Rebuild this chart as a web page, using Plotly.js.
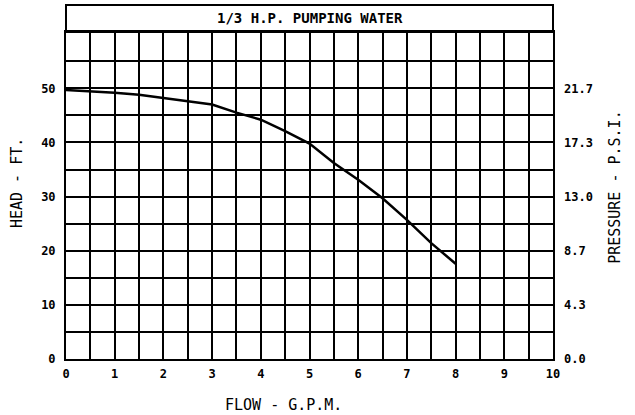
<!DOCTYPE html>
<html>
<head>
<meta charset="utf-8">
<script src="https://cdn.plot.ly/plotly-3.0.1.min.js"></script>
<style>html,body{margin:0;padding:0;background:#fff;}#chart{width:635px;height:415px;}</style>
</head>
<body>
<div id="chart"></div>
<script>
// Data
const flowGpm = [0, 0.5, 1, 1.5, 2, 2.5, 3, 3.5, 4, 4.5, 5, 5.5, 6, 6.5, 7, 7.5, 8];
const headFt  = [49.7, 49.5, 49.2, 48.8, 48.2, 47.7, 47.0, 45.5, 44.2, 42.1, 39.8, 36.2, 33.1, 29.7, 25.7, 21.4, 17.6];

const xTickVals = [0,0.5,1,1.5,2,2.5,3,3.5,4,4.5,5,5.5,6,6.5,7,7.5,8,8.5,9,9.5,10];
const xTickText = ['0','','1','','2','','3','','4','','5','','6','','7','','8','','9','','10'];
const yTickVals = [0,5,10,15,20,25,30,35,40,45,50,55];
const yTickText = ['0','','10','','20','','30','','40','','50',''];
const psiHeads  = [0, 10, 20, 30, 40, 50];
const psiLabels = ['0.0','4.3','8.7','13.0','17.3','21.7'];
const psiPerFt = 21.7 / 50;

const yMax = 60.4;
const tickFont = {family: 'DejaVu Sans Mono', size: 12, color: '#000', weight: 'bold'};
const titleFont = {family: 'DejaVu Sans Mono', size: 15, color: '#000'};

const traces = [
  {x: flowGpm, y: headFt, mode: 'lines', line: {color: '#000', width: 2.5}, hoverinfo: 'skip', showlegend: false},
  {x: flowGpm, y: headFt.map(v => v * psiPerFt), yaxis: 'y2', mode: 'lines', line: {color: 'rgba(0,0,0,0)', width: 0}, hoverinfo: 'skip', showlegend: false}
];

const layout = {
  width: 635, height: 415,
  margin: {l: 66, r: 82, t: 32, b: 56},
  paper_bgcolor: '#fff', plot_bgcolor: '#fff',
  showlegend: false,
  xaxis: {
    range: [0, 10], tickmode: 'array', tickvals: xTickVals, ticktext: xTickText,
    showgrid: true, gridcolor: '#000', gridwidth: 2, zeroline: false,
    showline: true, linecolor: '#000', linewidth: 2, mirror: true,
    ticks: '', tickfont: tickFont, ticklabelstandoff: 3, fixedrange: true
  },
  yaxis: {
    range: [0, yMax], tickmode: 'array', tickvals: yTickVals, ticktext: yTickText,
    showgrid: true, gridcolor: '#000', gridwidth: 2, zeroline: false,
    showline: true, linecolor: '#000', linewidth: 2, mirror: true,
    ticks: '', tickfont: tickFont, ticklabelstandoff: 6, fixedrange: true
  },
  yaxis2: {
    overlaying: 'y', side: 'right', range: [0, yMax * psiPerFt],
    tickmode: 'array', tickvals: psiHeads.map(v => v * psiPerFt), ticktext: psiLabels,
    showgrid: false, zeroline: false, showline: false, ticks: '',
    tickfont: tickFont, ticklabelstandoff: 10, fixedrange: true
  },
  shapes: [
    {type: 'rect', xref: 'paper', yref: 'paper', x0: 0, x1: 1, y0: 1, y1: 1.0826,
     line: {color: '#000', width: 2}, fillcolor: 'rgba(0,0,0,0)'}
  ],
  annotations: [
    {text: '1/3 H.P. PUMPING WATER', xref: 'paper', yref: 'paper', x: 0.5, y: 1.043,
     showarrow: false, xanchor: 'center', yanchor: 'middle',
     font: {family: 'DejaVu Sans Mono', size: 14, color: '#000', weight: 'bold'}},
    {text: 'HEAD - FT.', xref: 'paper', yref: 'paper', x: -0.1006, y: 0.538,
     showarrow: false, textangle: -90, xanchor: 'center', yanchor: 'middle', font: titleFont},
    {text: 'PRESSURE - P.S.I.', xref: 'paper', yref: 'paper', x: 1.127, y: 0.526,
     showarrow: false, textangle: -90, xanchor: 'center', yanchor: 'middle', font: titleFont},
    {text: 'FLOW - G.P.M.', xref: 'paper', yref: 'paper', x: 0.4456, y: -0.1407,
     showarrow: false, xanchor: 'center', yanchor: 'middle', font: titleFont}
  ]
};

Plotly.newPlot('chart', traces, layout, {staticPlot: true, displayModeBar: false});
</script>
</body>
</html>
